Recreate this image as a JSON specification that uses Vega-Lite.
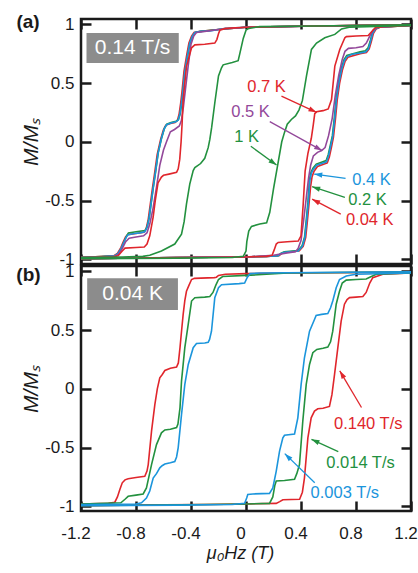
{
  "$schema": "https://vega.github.io/schema/vega-lite/v6.json",
  "padding": {"left": 15, "top": 11, "right": 0, "bottom": 0},
  "bounds": "flush",
  "spacing": 2,
  "config": {
    "font": "Liberation Sans",
    "view": {"stroke": "#1a1a1a", "strokeWidth": 2.5},
    "axis": {
      "domain": false, "grid": false,
      "tickSize": -10, "tickWidth": 2.5, "tickColor": "#1a1a1a", "tickCap": "butt",
      "labelFontSize": 17, "labelColor": "#1a1a1a", "labelFlush": false, "labelOverlap": false, "labelBound": false,
      "titleFontSize": 21, "titleFontWeight": "normal", "titleFontStyle": "italic", "titleColor": "#1a1a1a"
    }
  },
  "datasets": {
    "curvesA": [
      {"s":"0.04 K","b":"d","h":1.2,"m":0.995},{"s":"0.04 K","b":"d","h":0.5,"m":0.985},{"s":"0.04 K","b":"d","h":0,"m":0.975},{"s":"0.04 K","b":"d","h":-0.2,"m":0.955},{"s":"0.04 K","b":"d","h":-0.33,"m":0.94},{"s":"0.04 K","b":"d","h":-0.378,"m":0.93},{"s":"0.04 K","b":"d","h":-0.396,"m":0.9},{"s":"0.04 K","b":"d","h":-0.415,"m":0.84},{"s":"0.04 K","b":"d","h":-0.431,"m":0.74},{"s":"0.04 K","b":"d","h":-0.451,"m":0.6},{"s":"0.04 K","b":"d","h":-0.466,"m":0.42},{"s":"0.04 K","b":"d","h":-0.475,"m":0.33},{"s":"0.04 K","b":"d","h":-0.486,"m":0.24},{"s":"0.04 K","b":"d","h":-0.499,"m":0.18},{"s":"0.04 K","b":"d","h":-0.516,"m":0.165},{"s":"0.04 K","b":"d","h":-0.55,"m":0.155},{"s":"0.04 K","b":"d","h":-0.584,"m":0.14},{"s":"0.04 K","b":"d","h":-0.601,"m":0.1},{"s":"0.04 K","b":"d","h":-0.621,"m":0.02},{"s":"0.04 K","b":"d","h":-0.646,"m":-0.11},{"s":"0.04 K","b":"d","h":-0.666,"m":-0.28},{"s":"0.04 K","b":"d","h":-0.681,"m":-0.4},{"s":"0.04 K","b":"d","h":-0.696,"m":-0.53},{"s":"0.04 K","b":"d","h":-0.711,"m":-0.66},{"s":"0.04 K","b":"d","h":-0.726,"m":-0.74},{"s":"0.04 K","b":"d","h":-0.742,"m":-0.77},{"s":"0.04 K","b":"d","h":-0.8,"m":-0.78},{"s":"0.04 K","b":"d","h":-0.86,"m":-0.79},{"s":"0.04 K","b":"d","h":-0.876,"m":-0.81},{"s":"0.04 K","b":"d","h":-0.896,"m":-0.86},{"s":"0.04 K","b":"d","h":-0.91,"m":-0.9},{"s":"0.04 K","b":"d","h":-0.935,"m":-0.95},{"s":"0.04 K","b":"d","h":-0.96,"m":-0.97},{"s":"0.04 K","b":"d","h":-1.2,"m":-0.985},
      {"s":"0.04 K","b":"u","h":-1.2,"m":-0.995},{"s":"0.04 K","b":"u","h":-0.5,"m":-0.985},{"s":"0.04 K","b":"u","h":0,"m":-0.98},{"s":"0.04 K","b":"u","h":0.15,"m":-0.975},{"s":"0.04 K","b":"u","h":0.24,"m":-0.97},{"s":"0.04 K","b":"u","h":0.261,"m":-0.95},{"s":"0.04 K","b":"u","h":0.286,"m":-0.94},{"s":"0.04 K","b":"u","h":0.386,"m":-0.93},{"s":"0.04 K","b":"u","h":0.416,"m":-0.89},{"s":"0.04 K","b":"u","h":0.434,"m":-0.815},{"s":"0.04 K","b":"u","h":0.446,"m":-0.68},{"s":"0.04 K","b":"u","h":0.458,"m":-0.53},{"s":"0.04 K","b":"u","h":0.47,"m":-0.38},{"s":"0.04 K","b":"u","h":0.48,"m":-0.3},{"s":"0.04 K","b":"u","h":0.495,"m":-0.25},{"s":"0.04 K","b":"u","h":0.52,"m":-0.21},{"s":"0.04 K","b":"u","h":0.591,"m":-0.18},{"s":"0.04 K","b":"u","h":0.606,"m":-0.13},{"s":"0.04 K","b":"u","h":0.621,"m":-0.05},{"s":"0.04 K","b":"u","h":0.636,"m":0.04},{"s":"0.04 K","b":"u","h":0.651,"m":0.2},{"s":"0.04 K","b":"u","h":0.664,"m":0.36},{"s":"0.04 K","b":"u","h":0.681,"m":0.5},{"s":"0.04 K","b":"u","h":0.701,"m":0.61},{"s":"0.04 K","b":"u","h":0.721,"m":0.685},{"s":"0.04 K","b":"u","h":0.741,"m":0.72},{"s":"0.04 K","b":"u","h":0.83,"m":0.75},{"s":"0.04 K","b":"u","h":0.876,"m":0.76},{"s":"0.04 K","b":"u","h":0.896,"m":0.79},{"s":"0.04 K","b":"u","h":0.911,"m":0.85},{"s":"0.04 K","b":"u","h":0.926,"m":0.92},{"s":"0.04 K","b":"u","h":0.946,"m":0.96},{"s":"0.04 K","b":"u","h":0.975,"m":0.975},{"s":"0.04 K","b":"u","h":1.2,"m":0.99},

      {"s":"0.2 K","b":"d","h":1.2,"m":0.995},{"s":"0.2 K","b":"d","h":0.5,"m":0.985},{"s":"0.2 K","b":"d","h":0,"m":0.975},{"s":"0.2 K","b":"d","h":-0.2,"m":0.955},{"s":"0.2 K","b":"d","h":-0.33,"m":0.94},{"s":"0.2 K","b":"d","h":-0.37,"m":0.93},{"s":"0.2 K","b":"d","h":-0.388,"m":0.9},{"s":"0.2 K","b":"d","h":-0.407,"m":0.84},{"s":"0.2 K","b":"d","h":-0.423,"m":0.74},{"s":"0.2 K","b":"d","h":-0.443,"m":0.6},{"s":"0.2 K","b":"d","h":-0.458,"m":0.42},{"s":"0.2 K","b":"d","h":-0.467,"m":0.33},{"s":"0.2 K","b":"d","h":-0.478,"m":0.24},{"s":"0.2 K","b":"d","h":-0.491,"m":0.19},{"s":"0.2 K","b":"d","h":-0.508,"m":0.175},{"s":"0.2 K","b":"d","h":-0.545,"m":0.165},{"s":"0.2 K","b":"d","h":-0.576,"m":0.15},{"s":"0.2 K","b":"d","h":-0.593,"m":0.115},{"s":"0.2 K","b":"d","h":-0.613,"m":0.035},{"s":"0.2 K","b":"d","h":-0.638,"m":-0.09},{"s":"0.2 K","b":"d","h":-0.658,"m":-0.26},{"s":"0.2 K","b":"d","h":-0.673,"m":-0.38},{"s":"0.2 K","b":"d","h":-0.688,"m":-0.51},{"s":"0.2 K","b":"d","h":-0.703,"m":-0.64},{"s":"0.2 K","b":"d","h":-0.718,"m":-0.72},{"s":"0.2 K","b":"d","h":-0.734,"m":-0.755},{"s":"0.2 K","b":"d","h":-0.8,"m":-0.765},{"s":"0.2 K","b":"d","h":-0.855,"m":-0.775},{"s":"0.2 K","b":"d","h":-0.868,"m":-0.8},{"s":"0.2 K","b":"d","h":-0.888,"m":-0.855},{"s":"0.2 K","b":"d","h":-0.903,"m":-0.9},{"s":"0.2 K","b":"d","h":-0.928,"m":-0.95},{"s":"0.2 K","b":"d","h":-0.952,"m":-0.97},{"s":"0.2 K","b":"d","h":-1.2,"m":-0.985},
      {"s":"0.2 K","b":"u","h":-1.2,"m":-0.995},{"s":"0.2 K","b":"u","h":-0.5,"m":-0.985},{"s":"0.2 K","b":"u","h":0,"m":-0.98},{"s":"0.2 K","b":"u","h":0.15,"m":-0.975},{"s":"0.2 K","b":"u","h":0.232,"m":-0.97},{"s":"0.2 K","b":"u","h":0.253,"m":-0.95},{"s":"0.2 K","b":"u","h":0.278,"m":-0.935},{"s":"0.2 K","b":"u","h":0.378,"m":-0.925},{"s":"0.2 K","b":"u","h":0.408,"m":-0.885},{"s":"0.2 K","b":"u","h":0.426,"m":-0.81},{"s":"0.2 K","b":"u","h":0.438,"m":-0.67},{"s":"0.2 K","b":"u","h":0.45,"m":-0.52},{"s":"0.2 K","b":"u","h":0.462,"m":-0.32},{"s":"0.2 K","b":"u","h":0.473,"m":-0.26},{"s":"0.2 K","b":"u","h":0.487,"m":-0.225},{"s":"0.2 K","b":"u","h":0.511,"m":-0.19},{"s":"0.2 K","b":"u","h":0.583,"m":-0.16},{"s":"0.2 K","b":"u","h":0.598,"m":-0.11},{"s":"0.2 K","b":"u","h":0.613,"m":-0.03},{"s":"0.2 K","b":"u","h":0.628,"m":0.05},{"s":"0.2 K","b":"u","h":0.643,"m":0.21},{"s":"0.2 K","b":"u","h":0.656,"m":0.37},{"s":"0.2 K","b":"u","h":0.673,"m":0.51},{"s":"0.2 K","b":"u","h":0.693,"m":0.625},{"s":"0.2 K","b":"u","h":0.713,"m":0.7},{"s":"0.2 K","b":"u","h":0.733,"m":0.735},{"s":"0.2 K","b":"u","h":0.83,"m":0.765},{"s":"0.2 K","b":"u","h":0.868,"m":0.775},{"s":"0.2 K","b":"u","h":0.888,"m":0.8},{"s":"0.2 K","b":"u","h":0.903,"m":0.855},{"s":"0.2 K","b":"u","h":0.918,"m":0.925},{"s":"0.2 K","b":"u","h":0.938,"m":0.962},{"s":"0.2 K","b":"u","h":0.97,"m":0.975},{"s":"0.2 K","b":"u","h":1.2,"m":0.99},

      {"s":"0.4 K","b":"d","h":1.2,"m":0.995},{"s":"0.4 K","b":"d","h":0.9,"m":0.99},{"s":"0.4 K","b":"d","h":0.5,"m":0.985},{"s":"0.4 K","b":"d","h":0,"m":0.975},{"s":"0.4 K","b":"d","h":-0.15,"m":0.965},{"s":"0.4 K","b":"d","h":-0.2,"m":0.955},{"s":"0.4 K","b":"d","h":-0.25,"m":0.945},{"s":"0.4 K","b":"d","h":-0.33,"m":0.94},{"s":"0.4 K","b":"d","h":-0.372,"m":0.93},{"s":"0.4 K","b":"d","h":-0.39,"m":0.9},{"s":"0.4 K","b":"d","h":-0.409,"m":0.84},{"s":"0.4 K","b":"d","h":-0.425,"m":0.74},{"s":"0.4 K","b":"d","h":-0.445,"m":0.6},{"s":"0.4 K","b":"d","h":-0.46,"m":0.42},{"s":"0.4 K","b":"d","h":-0.469,"m":0.33},{"s":"0.4 K","b":"d","h":-0.48,"m":0.24},{"s":"0.4 K","b":"d","h":-0.493,"m":0.185},{"s":"0.4 K","b":"d","h":-0.51,"m":0.17},{"s":"0.4 K","b":"d","h":-0.545,"m":0.16},{"s":"0.4 K","b":"d","h":-0.578,"m":0.145},{"s":"0.4 K","b":"d","h":-0.595,"m":0.11},{"s":"0.4 K","b":"d","h":-0.615,"m":0.03},{"s":"0.4 K","b":"d","h":-0.64,"m":-0.1},{"s":"0.4 K","b":"d","h":-0.66,"m":-0.27},{"s":"0.4 K","b":"d","h":-0.675,"m":-0.39},{"s":"0.4 K","b":"d","h":-0.69,"m":-0.52},{"s":"0.4 K","b":"d","h":-0.705,"m":-0.65},{"s":"0.4 K","b":"d","h":-0.72,"m":-0.73},{"s":"0.4 K","b":"d","h":-0.736,"m":-0.765},{"s":"0.4 K","b":"d","h":-0.77,"m":-0.775},{"s":"0.4 K","b":"d","h":-0.81,"m":-0.78},{"s":"0.4 K","b":"d","h":-0.857,"m":-0.79},{"s":"0.4 K","b":"d","h":-0.87,"m":-0.81},{"s":"0.4 K","b":"d","h":-0.89,"m":-0.86},{"s":"0.4 K","b":"d","h":-0.905,"m":-0.9},{"s":"0.4 K","b":"d","h":-0.93,"m":-0.95},{"s":"0.4 K","b":"d","h":-0.954,"m":-0.97},{"s":"0.4 K","b":"d","h":-1.05,"m":-0.978},{"s":"0.4 K","b":"d","h":-1.2,"m":-0.985},
      {"s":"0.4 K","b":"u","h":-1.2,"m":-0.995},{"s":"0.4 K","b":"u","h":-0.9,"m":-0.99},{"s":"0.4 K","b":"u","h":-0.5,"m":-0.985},{"s":"0.4 K","b":"u","h":0,"m":-0.98},{"s":"0.4 K","b":"u","h":0.15,"m":-0.975},{"s":"0.4 K","b":"u","h":0.234,"m":-0.97},{"s":"0.4 K","b":"u","h":0.255,"m":-0.95},{"s":"0.4 K","b":"u","h":0.28,"m":-0.94},{"s":"0.4 K","b":"u","h":0.38,"m":-0.93},{"s":"0.4 K","b":"u","h":0.41,"m":-0.89},{"s":"0.4 K","b":"u","h":0.428,"m":-0.815},{"s":"0.4 K","b":"u","h":0.44,"m":-0.68},{"s":"0.4 K","b":"u","h":0.452,"m":-0.53},{"s":"0.4 K","b":"u","h":0.464,"m":-0.33},{"s":"0.4 K","b":"u","h":0.475,"m":-0.27},{"s":"0.4 K","b":"u","h":0.489,"m":-0.235},{"s":"0.4 K","b":"u","h":0.513,"m":-0.2},{"s":"0.4 K","b":"u","h":0.55,"m":-0.185},{"s":"0.4 K","b":"u","h":0.585,"m":-0.17},{"s":"0.4 K","b":"u","h":0.6,"m":-0.12},{"s":"0.4 K","b":"u","h":0.615,"m":-0.04},{"s":"0.4 K","b":"u","h":0.63,"m":0.04},{"s":"0.4 K","b":"u","h":0.645,"m":0.2},{"s":"0.4 K","b":"u","h":0.658,"m":0.36},{"s":"0.4 K","b":"u","h":0.675,"m":0.5},{"s":"0.4 K","b":"u","h":0.695,"m":0.615},{"s":"0.4 K","b":"u","h":0.715,"m":0.69},{"s":"0.4 K","b":"u","h":0.735,"m":0.725},{"s":"0.4 K","b":"u","h":0.77,"m":0.745},{"s":"0.4 K","b":"u","h":0.83,"m":0.755},{"s":"0.4 K","b":"u","h":0.87,"m":0.765},{"s":"0.4 K","b":"u","h":0.89,"m":0.79},{"s":"0.4 K","b":"u","h":0.905,"m":0.85},{"s":"0.4 K","b":"u","h":0.92,"m":0.92},{"s":"0.4 K","b":"u","h":0.94,"m":0.96},{"s":"0.4 K","b":"u","h":0.97,"m":0.975},{"s":"0.4 K","b":"u","h":1.1,"m":0.985},{"s":"0.4 K","b":"u","h":1.2,"m":0.99},

      {"s":"0.5 K","b":"d","h":1.2,"m":0.995},{"s":"0.5 K","b":"d","h":0.5,"m":0.985},{"s":"0.5 K","b":"d","h":0,"m":0.975},{"s":"0.5 K","b":"d","h":-0.2,"m":0.955},{"s":"0.5 K","b":"d","h":-0.3,"m":0.94},{"s":"0.5 K","b":"d","h":-0.36,"m":0.93},{"s":"0.5 K","b":"d","h":-0.38,"m":0.9},{"s":"0.5 K","b":"d","h":-0.4,"m":0.83},{"s":"0.5 K","b":"d","h":-0.42,"m":0.65},{"s":"0.5 K","b":"d","h":-0.44,"m":0.45},{"s":"0.5 K","b":"d","h":-0.455,"m":0.3},{"s":"0.5 K","b":"d","h":-0.47,"m":0.18},{"s":"0.5 K","b":"d","h":-0.485,"m":0.135},{"s":"0.5 K","b":"d","h":-0.52,"m":0.105},{"s":"0.5 K","b":"d","h":-0.55,"m":0.085},{"s":"0.5 K","b":"d","h":-0.578,"m":0.0},{"s":"0.5 K","b":"d","h":-0.6,"m":-0.07},{"s":"0.5 K","b":"d","h":-0.627,"m":-0.2},{"s":"0.5 K","b":"d","h":-0.65,"m":-0.38},{"s":"0.5 K","b":"d","h":-0.675,"m":-0.56},{"s":"0.5 K","b":"d","h":-0.7,"m":-0.7},{"s":"0.5 K","b":"d","h":-0.72,"m":-0.775},{"s":"0.5 K","b":"d","h":-0.745,"m":-0.8},{"s":"0.5 K","b":"d","h":-0.8,"m":-0.81},{"s":"0.5 K","b":"d","h":-0.85,"m":-0.82},{"s":"0.5 K","b":"d","h":-0.875,"m":-0.85},{"s":"0.5 K","b":"d","h":-0.9,"m":-0.91},{"s":"0.5 K","b":"d","h":-0.925,"m":-0.955},{"s":"0.5 K","b":"d","h":-0.955,"m":-0.975},{"s":"0.5 K","b":"d","h":-1.2,"m":-0.985},
      {"s":"0.5 K","b":"u","h":-1.2,"m":-0.995},{"s":"0.5 K","b":"u","h":-0.5,"m":-0.985},{"s":"0.5 K","b":"u","h":0,"m":-0.98},{"s":"0.5 K","b":"u","h":0.2,"m":-0.965},{"s":"0.5 K","b":"u","h":0.3,"m":-0.945},{"s":"0.5 K","b":"u","h":0.36,"m":-0.935},{"s":"0.5 K","b":"u","h":0.38,"m":-0.905},{"s":"0.5 K","b":"u","h":0.4,"m":-0.84},{"s":"0.5 K","b":"u","h":0.42,"m":-0.66},{"s":"0.5 K","b":"u","h":0.44,"m":-0.46},{"s":"0.5 K","b":"u","h":0.455,"m":-0.31},{"s":"0.5 K","b":"u","h":0.47,"m":-0.2},{"s":"0.5 K","b":"u","h":0.49,"m":-0.12},{"s":"0.5 K","b":"u","h":0.52,"m":-0.09},{"s":"0.5 K","b":"u","h":0.55,"m":-0.075},{"s":"0.5 K","b":"u","h":0.575,"m":-0.05},{"s":"0.5 K","b":"u","h":0.6,"m":0.05},{"s":"0.5 K","b":"u","h":0.627,"m":0.2},{"s":"0.5 K","b":"u","h":0.65,"m":0.4},{"s":"0.5 K","b":"u","h":0.675,"m":0.57},{"s":"0.5 K","b":"u","h":0.7,"m":0.7},{"s":"0.5 K","b":"u","h":0.72,"m":0.77},{"s":"0.5 K","b":"u","h":0.745,"m":0.795},{"s":"0.5 K","b":"u","h":0.8,"m":0.8},{"s":"0.5 K","b":"u","h":0.85,"m":0.81},{"s":"0.5 K","b":"u","h":0.875,"m":0.84},{"s":"0.5 K","b":"u","h":0.9,"m":0.9},{"s":"0.5 K","b":"u","h":0.925,"m":0.95},{"s":"0.5 K","b":"u","h":0.955,"m":0.975},{"s":"0.5 K","b":"u","h":1.2,"m":0.99},

      {"s":"0.7 K","b":"d","h":1.2,"m":0.995},{"s":"0.7 K","b":"d","h":0.5,"m":0.985},{"s":"0.7 K","b":"d","h":0,"m":0.975},{"s":"0.7 K","b":"d","h":-0.15,"m":0.965},{"s":"0.7 K","b":"d","h":-0.19,"m":0.95},{"s":"0.7 K","b":"d","h":-0.2,"m":0.92},{"s":"0.7 K","b":"d","h":-0.212,"m":0.87},{"s":"0.7 K","b":"d","h":-0.227,"m":0.84},{"s":"0.7 K","b":"d","h":-0.3,"m":0.83},{"s":"0.7 K","b":"d","h":-0.372,"m":0.825},{"s":"0.7 K","b":"d","h":-0.396,"m":0.8},{"s":"0.7 K","b":"d","h":-0.415,"m":0.72},{"s":"0.7 K","b":"d","h":-0.433,"m":0.64},{"s":"0.7 K","b":"d","h":-0.445,"m":0.5},{"s":"0.7 K","b":"d","h":-0.457,"m":0.36},{"s":"0.7 K","b":"d","h":-0.465,"m":0.15},{"s":"0.7 K","b":"d","h":-0.472,"m":0.0},{"s":"0.7 K","b":"d","h":-0.482,"m":-0.15},{"s":"0.7 K","b":"d","h":-0.493,"m":-0.23},{"s":"0.7 K","b":"d","h":-0.505,"m":-0.26},{"s":"0.7 K","b":"d","h":-0.56,"m":-0.275},{"s":"0.7 K","b":"d","h":-0.6,"m":-0.285},{"s":"0.7 K","b":"d","h":-0.615,"m":-0.3},{"s":"0.7 K","b":"d","h":-0.64,"m":-0.35},{"s":"0.7 K","b":"d","h":-0.66,"m":-0.5},{"s":"0.7 K","b":"d","h":-0.675,"m":-0.64},{"s":"0.7 K","b":"d","h":-0.7,"m":-0.8},{"s":"0.7 K","b":"d","h":-0.72,"m":-0.87},{"s":"0.7 K","b":"d","h":-0.74,"m":-0.895},{"s":"0.7 K","b":"d","h":-0.8,"m":-0.9},{"s":"0.7 K","b":"d","h":-0.88,"m":-0.905},{"s":"0.7 K","b":"d","h":-0.9,"m":-0.93},{"s":"0.7 K","b":"d","h":-0.93,"m":-0.97},{"s":"0.7 K","b":"d","h":-0.97,"m":-0.98},{"s":"0.7 K","b":"d","h":-1.2,"m":-0.985},
      {"s":"0.7 K","b":"u","h":-1.2,"m":-0.995},{"s":"0.7 K","b":"u","h":-0.5,"m":-0.985},{"s":"0.7 K","b":"u","h":0,"m":-0.98},{"s":"0.7 K","b":"u","h":0.15,"m":-0.975},{"s":"0.7 K","b":"u","h":0.19,"m":-0.965},{"s":"0.7 K","b":"u","h":0.205,"m":-0.92},{"s":"0.7 K","b":"u","h":0.22,"m":-0.87},{"s":"0.7 K","b":"u","h":0.234,"m":-0.857},{"s":"0.7 K","b":"u","h":0.3,"m":-0.85},{"s":"0.7 K","b":"u","h":0.38,"m":-0.845},{"s":"0.7 K","b":"u","h":0.4,"m":-0.8},{"s":"0.7 K","b":"u","h":0.416,"m":-0.53},{"s":"0.7 K","b":"u","h":0.43,"m":-0.25},{"s":"0.7 K","b":"u","h":0.45,"m":-0.1},{"s":"0.7 K","b":"u","h":0.475,"m":0.03},{"s":"0.7 K","b":"u","h":0.49,"m":0.15},{"s":"0.7 K","b":"u","h":0.5,"m":0.24},{"s":"0.7 K","b":"u","h":0.513,"m":0.255},{"s":"0.7 K","b":"u","h":0.56,"m":0.265},{"s":"0.7 K","b":"u","h":0.598,"m":0.28},{"s":"0.7 K","b":"u","h":0.622,"m":0.36},{"s":"0.7 K","b":"u","h":0.646,"m":0.644},{"s":"0.7 K","b":"u","h":0.682,"m":0.786},{"s":"0.7 K","b":"u","h":0.719,"m":0.885},{"s":"0.7 K","b":"u","h":0.73,"m":0.895},{"s":"0.7 K","b":"u","h":0.8,"m":0.9},{"s":"0.7 K","b":"u","h":0.889,"m":0.905},{"s":"0.7 K","b":"u","h":0.9,"m":0.92},{"s":"0.7 K","b":"u","h":0.94,"m":0.97},{"s":"0.7 K","b":"u","h":1.0,"m":0.98},{"s":"0.7 K","b":"u","h":1.2,"m":0.99},

      {"s":"1 K","b":"d","h":1.2,"m":0.995},{"s":"1 K","b":"d","h":0.5,"m":0.985},{"s":"1 K","b":"d","h":0.1,"m":0.98},{"s":"1 K","b":"d","h":0.02,"m":0.965},{"s":"1 K","b":"d","h":0,"m":0.95},{"s":"1 K","b":"d","h":-0.02,"m":0.88},{"s":"1 K","b":"d","h":-0.045,"m":0.75},{"s":"1 K","b":"d","h":-0.057,"m":0.69},{"s":"1 K","b":"d","h":-0.1,"m":0.675},{"s":"1 K","b":"d","h":-0.166,"m":0.655},{"s":"1 K","b":"d","h":-0.178,"m":0.63},{"s":"1 K","b":"d","h":-0.2,"m":0.56},{"s":"1 K","b":"d","h":-0.227,"m":0.33},{"s":"1 K","b":"d","h":-0.25,"m":0.12},{"s":"1 K","b":"d","h":-0.263,"m":0.02},{"s":"1 K","b":"d","h":-0.275,"m":-0.05},{"s":"1 K","b":"d","h":-0.3,"m":-0.14},{"s":"1 K","b":"d","h":-0.33,"m":-0.185},{"s":"1 K","b":"d","h":-0.372,"m":-0.22},{"s":"1 K","b":"d","h":-0.384,"m":-0.245},{"s":"1 K","b":"d","h":-0.409,"m":-0.36},{"s":"1 K","b":"d","h":-0.433,"m":-0.53},{"s":"1 K","b":"d","h":-0.45,"m":-0.68},{"s":"1 K","b":"d","h":-0.469,"m":-0.786},{"s":"1 K","b":"d","h":-0.518,"m":-0.87},{"s":"1 K","b":"d","h":-0.615,"m":-0.93},{"s":"1 K","b":"d","h":-0.7,"m":-0.965},{"s":"1 K","b":"d","h":-0.75,"m":-0.975},{"s":"1 K","b":"d","h":-0.9,"m":-0.98},{"s":"1 K","b":"d","h":-1.2,"m":-0.985},
      {"s":"1 K","b":"u","h":-1.2,"m":-0.995},{"s":"1 K","b":"u","h":-0.5,"m":-0.99},{"s":"1 K","b":"u","h":-0.1,"m":-0.985},{"s":"1 K","b":"u","h":-0.02,"m":-0.975},{"s":"1 K","b":"u","h":0,"m":-0.93},{"s":"1 K","b":"u","h":0.006,"m":-0.85},{"s":"1 K","b":"u","h":0.02,"m":-0.76},{"s":"1 K","b":"u","h":0.04,"m":-0.72},{"s":"1 K","b":"u","h":0.1,"m":-0.7},{"s":"1 K","b":"u","h":0.15,"m":-0.69},{"s":"1 K","b":"u","h":0.173,"m":-0.6},{"s":"1 K","b":"u","h":0.2,"m":-0.4},{"s":"1 K","b":"u","h":0.23,"m":-0.2},{"s":"1 K","b":"u","h":0.26,"m":0.0},{"s":"1 K","b":"u","h":0.28,"m":0.08},{"s":"1 K","b":"u","h":0.3,"m":0.15},{"s":"1 K","b":"u","h":0.33,"m":0.19},{"s":"1 K","b":"u","h":0.36,"m":0.22},{"s":"1 K","b":"u","h":0.385,"m":0.27},{"s":"1 K","b":"u","h":0.41,"m":0.35},{"s":"1 K","b":"u","h":0.44,"m":0.56},{"s":"1 K","b":"u","h":0.476,"m":0.786},{"s":"1 K","b":"u","h":0.513,"m":0.84},{"s":"1 K","b":"u","h":0.573,"m":0.885},{"s":"1 K","b":"u","h":0.646,"m":0.914},{"s":"1 K","b":"u","h":0.695,"m":0.96},{"s":"1 K","b":"u","h":0.75,"m":0.975},{"s":"1 K","b":"u","h":1.2,"m":0.99}
    ],
    "curvesB": [
      {"s":"0.140 T/s","b":"d","h":1.2,"m":0.995},{"s":"0.140 T/s","b":"d","h":0.9,"m":0.99},{"s":"0.140 T/s","b":"d","h":0.3,"m":0.985},{"s":"0.140 T/s","b":"d","h":0,"m":0.98},{"s":"0.140 T/s","b":"d","h":-0.15,"m":0.975},{"s":"0.140 T/s","b":"d","h":-0.2,"m":0.965},{"s":"0.140 T/s","b":"d","h":-0.215,"m":0.95},{"s":"0.140 T/s","b":"d","h":-0.23,"m":0.946},{"s":"0.140 T/s","b":"d","h":-0.375,"m":0.94},{"s":"0.140 T/s","b":"d","h":-0.396,"m":0.93},{"s":"0.140 T/s","b":"d","h":-0.415,"m":0.88},{"s":"0.140 T/s","b":"d","h":-0.433,"m":0.83},{"s":"0.140 T/s","b":"d","h":-0.445,"m":0.75},{"s":"0.140 T/s","b":"d","h":-0.457,"m":0.633},{"s":"0.140 T/s","b":"d","h":-0.468,"m":0.5},{"s":"0.140 T/s","b":"d","h":-0.48,"m":0.35},{"s":"0.140 T/s","b":"d","h":-0.492,"m":0.22},{"s":"0.140 T/s","b":"d","h":-0.505,"m":0.185},{"s":"0.140 T/s","b":"d","h":-0.55,"m":0.175},{"s":"0.140 T/s","b":"d","h":-0.59,"m":0.156},{"s":"0.140 T/s","b":"d","h":-0.61,"m":0.12},{"s":"0.140 T/s","b":"d","h":-0.627,"m":0.094},{"s":"0.140 T/s","b":"d","h":-0.645,"m":0.0},{"s":"0.140 T/s","b":"d","h":-0.663,"m":-0.134},{"s":"0.140 T/s","b":"d","h":-0.687,"m":-0.36},{"s":"0.140 T/s","b":"d","h":-0.711,"m":-0.645},{"s":"0.140 T/s","b":"d","h":-0.72,"m":-0.7},{"s":"0.140 T/s","b":"d","h":-0.736,"m":-0.745},{"s":"0.140 T/s","b":"d","h":-0.8,"m":-0.755},{"s":"0.140 T/s","b":"d","h":-0.857,"m":-0.765},{"s":"0.140 T/s","b":"d","h":-0.88,"m":-0.775},{"s":"0.140 T/s","b":"d","h":-0.9,"m":-0.8},{"s":"0.140 T/s","b":"d","h":-0.918,"m":-0.86},{"s":"0.140 T/s","b":"d","h":-0.935,"m":-0.92},{"s":"0.140 T/s","b":"d","h":-0.954,"m":-0.965},{"s":"0.140 T/s","b":"d","h":-1.0,"m":-0.975},{"s":"0.140 T/s","b":"d","h":-1.2,"m":-0.98},
      {"s":"0.140 T/s","b":"u","h":-1.2,"m":-0.995},{"s":"0.140 T/s","b":"u","h":-0.9,"m":-0.99},{"s":"0.140 T/s","b":"u","h":-0.3,"m":-0.985},{"s":"0.140 T/s","b":"u","h":0,"m":-0.98},{"s":"0.140 T/s","b":"u","h":0.22,"m":-0.975},{"s":"0.140 T/s","b":"u","h":0.245,"m":-0.96},{"s":"0.140 T/s","b":"u","h":0.268,"m":-0.944},{"s":"0.140 T/s","b":"u","h":0.39,"m":-0.94},{"s":"0.140 T/s","b":"u","h":0.41,"m":-0.88},{"s":"0.140 T/s","b":"u","h":0.425,"m":-0.76},{"s":"0.140 T/s","b":"u","h":0.45,"m":-0.418},{"s":"0.140 T/s","b":"u","h":0.474,"m":-0.247},{"s":"0.140 T/s","b":"u","h":0.498,"m":-0.19},{"s":"0.140 T/s","b":"u","h":0.522,"m":-0.17},{"s":"0.140 T/s","b":"u","h":0.56,"m":-0.165},{"s":"0.140 T/s","b":"u","h":0.607,"m":-0.15},{"s":"0.140 T/s","b":"u","h":0.625,"m":-0.05},{"s":"0.140 T/s","b":"u","h":0.644,"m":0.122},{"s":"0.140 T/s","b":"u","h":0.668,"m":0.35},{"s":"0.140 T/s","b":"u","h":0.692,"m":0.576},{"s":"0.140 T/s","b":"u","h":0.716,"m":0.72},{"s":"0.140 T/s","b":"u","h":0.735,"m":0.76},{"s":"0.140 T/s","b":"u","h":0.753,"m":0.776},{"s":"0.140 T/s","b":"u","h":0.8,"m":0.78},{"s":"0.140 T/s","b":"u","h":0.85,"m":0.785},{"s":"0.140 T/s","b":"u","h":0.874,"m":0.82},{"s":"0.140 T/s","b":"u","h":0.9,"m":0.9},{"s":"0.140 T/s","b":"u","h":0.922,"m":0.946},{"s":"0.140 T/s","b":"u","h":0.995,"m":0.975},{"s":"0.140 T/s","b":"u","h":1.2,"m":0.985},

      {"s":"0.014 T/s","b":"d","h":1.2,"m":0.995},{"s":"0.014 T/s","b":"d","h":0.3,"m":0.985},{"s":"0.014 T/s","b":"d","h":0,"m":0.965},{"s":"0.014 T/s","b":"d","h":-0.17,"m":0.955},{"s":"0.014 T/s","b":"d","h":-0.2,"m":0.93},{"s":"0.014 T/s","b":"d","h":-0.22,"m":0.88},{"s":"0.014 T/s","b":"d","h":-0.24,"m":0.82},{"s":"0.014 T/s","b":"d","h":-0.263,"m":0.785},{"s":"0.014 T/s","b":"d","h":-0.3,"m":0.78},{"s":"0.014 T/s","b":"d","h":-0.372,"m":0.775},{"s":"0.014 T/s","b":"d","h":-0.396,"m":0.747},{"s":"0.014 T/s","b":"d","h":-0.42,"m":0.55},{"s":"0.014 T/s","b":"d","h":-0.445,"m":0.35},{"s":"0.014 T/s","b":"d","h":-0.469,"m":0.065},{"s":"0.014 T/s","b":"d","h":-0.48,"m":-0.162},{"s":"0.014 T/s","b":"d","h":-0.495,"m":-0.3},{"s":"0.014 T/s","b":"d","h":-0.505,"m":-0.33},{"s":"0.014 T/s","b":"d","h":-0.55,"m":-0.345},{"s":"0.014 T/s","b":"d","h":-0.59,"m":-0.35},{"s":"0.014 T/s","b":"d","h":-0.615,"m":-0.375},{"s":"0.014 T/s","b":"d","h":-0.635,"m":-0.43},{"s":"0.014 T/s","b":"d","h":-0.651,"m":-0.475},{"s":"0.014 T/s","b":"d","h":-0.687,"m":-0.645},{"s":"0.014 T/s","b":"d","h":-0.724,"m":-0.844},{"s":"0.014 T/s","b":"d","h":-0.748,"m":-0.895},{"s":"0.014 T/s","b":"d","h":-0.8,"m":-0.905},{"s":"0.014 T/s","b":"d","h":-0.857,"m":-0.915},{"s":"0.014 T/s","b":"d","h":-0.88,"m":-0.94},{"s":"0.014 T/s","b":"d","h":-0.91,"m":-0.97},{"s":"0.014 T/s","b":"d","h":-1.2,"m":-0.98},
      {"s":"0.014 T/s","b":"u","h":-1.2,"m":-0.995},{"s":"0.014 T/s","b":"u","h":-0.3,"m":-0.985},{"s":"0.014 T/s","b":"u","h":0,"m":-0.98},{"s":"0.014 T/s","b":"u","h":0.171,"m":-0.975},{"s":"0.014 T/s","b":"u","h":0.195,"m":-0.92},{"s":"0.014 T/s","b":"u","h":0.21,"m":-0.82},{"s":"0.014 T/s","b":"u","h":0.22,"m":-0.785},{"s":"0.014 T/s","b":"u","h":0.28,"m":-0.78},{"s":"0.014 T/s","b":"u","h":0.353,"m":-0.77},{"s":"0.014 T/s","b":"u","h":0.37,"m":-0.72},{"s":"0.014 T/s","b":"u","h":0.389,"m":-0.645},{"s":"0.014 T/s","b":"u","h":0.413,"m":-0.276},{"s":"0.014 T/s","b":"u","h":0.438,"m":0.037},{"s":"0.014 T/s","b":"u","h":0.462,"m":0.207},{"s":"0.014 T/s","b":"u","h":0.486,"m":0.307},{"s":"0.014 T/s","b":"u","h":0.515,"m":0.335},{"s":"0.014 T/s","b":"u","h":0.56,"m":0.345},{"s":"0.014 T/s","b":"u","h":0.595,"m":0.355},{"s":"0.014 T/s","b":"u","h":0.615,"m":0.4},{"s":"0.014 T/s","b":"u","h":0.631,"m":0.49},{"s":"0.014 T/s","b":"u","h":0.656,"m":0.72},{"s":"0.014 T/s","b":"u","h":0.68,"m":0.83},{"s":"0.014 T/s","b":"u","h":0.7,"m":0.9},{"s":"0.014 T/s","b":"u","h":0.729,"m":0.925},{"s":"0.014 T/s","b":"u","h":0.8,"m":0.93},{"s":"0.014 T/s","b":"u","h":0.874,"m":0.935},{"s":"0.014 T/s","b":"u","h":0.9,"m":0.95},{"s":"0.014 T/s","b":"u","h":0.947,"m":0.975},{"s":"0.014 T/s","b":"u","h":1.2,"m":0.985},

      {"s":"0.003 T/s","b":"d","h":1.2,"m":0.995},{"s":"0.003 T/s","b":"d","h":0.5,"m":0.99},{"s":"0.003 T/s","b":"d","h":0.1,"m":0.985},{"s":"0.003 T/s","b":"d","h":0.03,"m":0.98},{"s":"0.003 T/s","b":"d","h":0.01,"m":0.95},{"s":"0.003 T/s","b":"d","h":-0.01,"m":0.9},{"s":"0.003 T/s","b":"d","h":-0.05,"m":0.895},{"s":"0.003 T/s","b":"d","h":-0.178,"m":0.885},{"s":"0.003 T/s","b":"d","h":-0.2,"m":0.86},{"s":"0.003 T/s","b":"d","h":-0.227,"m":0.776},{"s":"0.003 T/s","b":"d","h":-0.251,"m":0.49},{"s":"0.003 T/s","b":"d","h":-0.265,"m":0.42},{"s":"0.003 T/s","b":"d","h":-0.275,"m":0.395},{"s":"0.003 T/s","b":"d","h":-0.3,"m":0.39},{"s":"0.003 T/s","b":"d","h":-0.36,"m":0.385},{"s":"0.003 T/s","b":"d","h":-0.384,"m":0.35},{"s":"0.003 T/s","b":"d","h":-0.42,"m":0.207},{"s":"0.003 T/s","b":"d","h":-0.445,"m":0.037},{"s":"0.003 T/s","b":"d","h":-0.469,"m":-0.22},{"s":"0.003 T/s","b":"d","h":-0.493,"m":-0.5},{"s":"0.003 T/s","b":"d","h":-0.505,"m":-0.58},{"s":"0.003 T/s","b":"d","h":-0.518,"m":-0.62},{"s":"0.003 T/s","b":"d","h":-0.55,"m":-0.63},{"s":"0.003 T/s","b":"d","h":-0.59,"m":-0.64},{"s":"0.003 T/s","b":"d","h":-0.61,"m":-0.655},{"s":"0.003 T/s","b":"d","h":-0.627,"m":-0.673},{"s":"0.003 T/s","b":"d","h":-0.65,"m":-0.72},{"s":"0.003 T/s","b":"d","h":-0.675,"m":-0.76},{"s":"0.003 T/s","b":"d","h":-0.7,"m":-0.87},{"s":"0.003 T/s","b":"d","h":-0.724,"m":-0.93},{"s":"0.003 T/s","b":"d","h":-0.76,"m":-0.97},{"s":"0.003 T/s","b":"d","h":-0.8,"m":-0.98},{"s":"0.003 T/s","b":"d","h":-1.2,"m":-0.985},
      {"s":"0.003 T/s","b":"u","h":-1.2,"m":-0.995},{"s":"0.003 T/s","b":"u","h":-0.5,"m":-0.99},{"s":"0.003 T/s","b":"u","h":-0.1,"m":-0.985},{"s":"0.003 T/s","b":"u","h":-0.01,"m":-0.975},{"s":"0.003 T/s","b":"u","h":0.005,"m":-0.93},{"s":"0.003 T/s","b":"u","h":0.013,"m":-0.9},{"s":"0.003 T/s","b":"u","h":0.05,"m":-0.895},{"s":"0.003 T/s","b":"u","h":0.171,"m":-0.89},{"s":"0.003 T/s","b":"u","h":0.195,"m":-0.844},{"s":"0.003 T/s","b":"u","h":0.22,"m":-0.7},{"s":"0.003 T/s","b":"u","h":0.244,"m":-0.53},{"s":"0.003 T/s","b":"u","h":0.268,"m":-0.418},{"s":"0.003 T/s","b":"u","h":0.28,"m":-0.395},{"s":"0.003 T/s","b":"u","h":0.353,"m":-0.385},{"s":"0.003 T/s","b":"u","h":0.377,"m":-0.247},{"s":"0.003 T/s","b":"u","h":0.401,"m":0.037},{"s":"0.003 T/s","b":"u","h":0.425,"m":0.264},{"s":"0.003 T/s","b":"u","h":0.462,"m":0.49},{"s":"0.003 T/s","b":"u","h":0.498,"m":0.59},{"s":"0.003 T/s","b":"u","h":0.51,"m":0.625},{"s":"0.003 T/s","b":"u","h":0.55,"m":0.633},{"s":"0.003 T/s","b":"u","h":0.595,"m":0.64},{"s":"0.003 T/s","b":"u","h":0.615,"m":0.69},{"s":"0.003 T/s","b":"u","h":0.631,"m":0.747},{"s":"0.003 T/s","b":"u","h":0.656,"m":0.86},{"s":"0.003 T/s","b":"u","h":0.68,"m":0.93},{"s":"0.003 T/s","b":"u","h":0.729,"m":0.96},{"s":"0.003 T/s","b":"u","h":0.8,"m":0.975},{"s":"0.003 T/s","b":"u","h":1.2,"m":0.985}
    ],
    "labelsA": [
      {"s":"0.7 K","h":0.149,"m":0.469},{"s":"0.5 K","h":0.033,"m":0.254},{"s":"1 K","h":0.004,"m":0.038},
      {"s":"0.4 K","h":0.913,"m":-0.322},{"s":"0.2 K","h":0.884,"m":-0.499},{"s":"0.04 K","h":0.9,"m":-0.669}
    ],
    "arrowsA": [
      {"s":"0.7 K","h0":0.258,"m0":0.388,"h1":0.513,"m1":0.251},
      {"s":"0.5 K","h0":0.173,"m0":0.172,"h1":0.554,"m1":-0.075},
      {"s":"1 K","h0":0.035,"m0":-0.038,"h1":0.222,"m1":-0.198},
      {"s":"0.4 K","h0":0.724,"m0":-0.311,"h1":0.496,"m1":-0.275},
      {"s":"0.2 K","h0":0.719,"m0":-0.473,"h1":0.481,"m1":-0.382},
      {"s":"0.04 K","h0":0.689,"m0":-0.616,"h1":0.481,"m1":-0.488}
    ],
    "labelsB": [
      {"s":"0.140 T/s","h":0.889,"m":-0.302},{"s":"0.014 T/s","h":0.833,"m":-0.628},{"s":"0.003 T/s","h":0.719,"m":-0.884}
    ],
    "arrowsB": [
      {"s":"0.140 T/s","h0":0.84,"m0":-0.159,"h1":0.682,"m1":0.153},
      {"s":"0.014 T/s","h0":0.671,"m0":-0.535,"h1":0.476,"m1":-0.43},
      {"s":"0.003 T/s","h0":0.5,"m0":-0.799,"h1":0.282,"m1":-0.552}
    ],
    "boxA": [{"x1":-1.16,"x2":-0.489,"y1":0.671,"y2":0.926,"hc":-0.825,"mc":0.8,"t":"0.14 T/s"}],
    "boxB": [{"x1":-1.155,"x2":-0.495,"y1":0.671,"y2":0.94,"hc":-0.825,"mc":0.806,"t":"0.04 K"}],
    "tagA": [{"h":-1.585,"m":1.019,"t":"(a)"}],
    "tagB": [{"h":-1.582,"m":0.97,"t":"(b)"}]
  },
  "vconcat": [
    {
      "width": 330, "height": 245,
      "resolve": {"axis": {"x": "independent", "y": "independent"}},
      "layer": [
        {
          "data": {"name": "boxA"},
          "mark": {"type": "rect", "color": "#8c8c8c"},
          "encoding": {
            "x": {"field": "x1", "type": "quantitative", "axis": null, "scale": {"domain": [-1.2, 1.2], "nice": false, "zero": false}},
            "x2": {"field": "x2"},
            "y": {"field": "y1", "type": "quantitative", "axis": null, "scale": {"domain": [-1.04, 1.045], "nice": false, "zero": false}},
            "y2": {"field": "y2"}
          }
        },
        {
          "data": {"name": "boxA"},
          "mark": {"type": "text", "color": "white", "fontSize": 21, "align": "center", "baseline": "middle"},
          "encoding": {
            "x": {"field": "hc", "type": "quantitative", "axis": null},
            "y": {"field": "mc", "type": "quantitative", "axis": null},
            "text": {"field": "t"}
          }
        },
        {
          "data": {"name": "curvesA"},
          "mark": {"type": "line", "strokeWidth": 1.6, "clip": true},
          "encoding": {
            "x": {"field": "h", "type": "quantitative", "scale": {"domain": [-1.2, 1.2], "nice": false, "zero": false},
                  "axis": {"orient": "bottom", "values": [-1.2, -0.8, -0.4, 0, 0.4, 0.8, 1.2], "labels": false, "title": null}},
            "y": {"field": "m", "type": "quantitative", "scale": {"domain": [-1.04, 1.045], "nice": false, "zero": false},
                  "axis": {"orient": "left", "values": [-1, -0.5, 0, 0.5, 1], "labelExpr": "'' + datum.value", "labelPadding": 17, "title": "M/Mₛ", "titlePadding": 3}},
            "color": {"field": "s", "type": "nominal", "legend": null,
                      "scale": {"domain": ["0.04 K","0.2 K","0.4 K","0.5 K","0.7 K","1 K","0.140 T/s","0.014 T/s","0.003 T/s"],
                                "range": ["#e0262c","#23913f","#1b95dc","#93489a","#e0262c","#23913f","#e0262c","#23913f","#1b95dc"]}},
            "detail": {"field": "b", "type": "nominal"}
          }
        },
        {
          "data": {"name": "arrowsA"},
          "mark": {"type": "rule", "strokeWidth": 1.3},
          "encoding": {
            "x": {"field": "h0", "type": "quantitative", "axis": null},
            "y": {"field": "m0", "type": "quantitative", "axis": null},
            "x2": {"field": "h1"},
            "y2": {"field": "m1"},
            "color": {"field": "s", "type": "nominal", "legend": null}
          }
        },
        {
          "data": {"name": "arrowsA"},
          "transform": [{"calculate": "atan2((datum.h1 - datum.h0) * 137.5, (datum.m1 - datum.m0) * 117.5) * 180 / PI", "as": "ang"}],
          "mark": {"type": "point", "shape": "M0,0L0.55,1.7L-0.55,1.7Z", "size": 90, "filled": true, "opacity": 1},
          "encoding": {
            "x": {"field": "h1", "type": "quantitative", "axis": null},
            "y": {"field": "m1", "type": "quantitative", "axis": null},
            "angle": {"field": "ang", "type": "quantitative", "scale": null},
            "color": {"field": "s", "type": "nominal", "legend": null}
          }
        },
        {
          "data": {"name": "labelsA"},
          "mark": {"type": "text", "fontSize": 16.5, "align": "center", "baseline": "middle"},
          "encoding": {
            "x": {"field": "h", "type": "quantitative",
                  "axis": {"orient": "top", "values": [-1.2, -0.8, -0.4, 0, 0.4, 0.8, 1.2], "labels": false, "title": null}},
            "y": {"field": "m", "type": "quantitative",
                  "axis": {"orient": "right", "values": [-1, -0.5, 0, 0.5, 1], "labels": false, "title": null}},
            "text": {"field": "s"},
            "color": {"field": "s", "type": "nominal", "legend": null}
          }
        },
        {
          "data": {"name": "tagA"},
          "mark": {"type": "text", "fontSize": 19, "fontWeight": "bold", "align": "center", "baseline": "middle", "color": "#1a1a1a"},
          "encoding": {
            "x": {"field": "h", "type": "quantitative", "axis": null},
            "y": {"field": "m", "type": "quantitative", "axis": null},
            "text": {"field": "t"}
          }
        }
      ]
    },
    {
      "width": 330, "height": 245,
      "resolve": {"axis": {"x": "independent", "y": "independent"}},
      "layer": [
        {
          "data": {"name": "boxB"},
          "mark": {"type": "rect", "color": "#8c8c8c"},
          "encoding": {
            "x": {"field": "x1", "type": "quantitative", "axis": null, "scale": {"domain": [-1.2, 1.2], "nice": false, "zero": false}},
            "x2": {"field": "x2"},
            "y": {"field": "y1", "type": "quantitative", "axis": null, "scale": {"domain": [-1.04, 1.045], "nice": false, "zero": false}},
            "y2": {"field": "y2"}
          }
        },
        {
          "data": {"name": "boxB"},
          "mark": {"type": "text", "color": "white", "fontSize": 21, "align": "center", "baseline": "middle"},
          "encoding": {
            "x": {"field": "hc", "type": "quantitative", "axis": null},
            "y": {"field": "mc", "type": "quantitative", "axis": null},
            "text": {"field": "t"}
          }
        },
        {
          "data": {"name": "curvesB"},
          "mark": {"type": "line", "strokeWidth": 1.6, "clip": true},
          "encoding": {
            "x": {"field": "h", "type": "quantitative", "scale": {"domain": [-1.2, 1.2], "nice": false, "zero": false},
                  "axis": {"orient": "bottom", "values": [-1.2, -0.8, -0.4, 0, 0.4, 0.8, 1.2], "labelExpr": "'' + datum.value", "labelPadding": 24, "labelOffset": -5.5,
                           "title": "μ₀Hz (T)", "titleFontSize": 18, "titlePadding": 3, "titleX": 159}},
            "y": {"field": "m", "type": "quantitative", "scale": {"domain": [-1.04, 1.045], "nice": false, "zero": false},
                  "axis": {"orient": "left", "values": [-1, -0.5, 0, 0.5, 1], "labelExpr": "'' + datum.value", "labelPadding": 17, "title": "M/Mₛ", "titlePadding": 3}},
            "color": {"field": "s", "type": "nominal", "legend": null,
                      "scale": {"domain": ["0.04 K","0.2 K","0.4 K","0.5 K","0.7 K","1 K","0.140 T/s","0.014 T/s","0.003 T/s"],
                                "range": ["#e0262c","#23913f","#1b95dc","#93489a","#e0262c","#23913f","#e0262c","#23913f","#1b95dc"]}},
            "detail": {"field": "b", "type": "nominal"}
          }
        },
        {
          "data": {"name": "arrowsB"},
          "mark": {"type": "rule", "strokeWidth": 1.3},
          "encoding": {
            "x": {"field": "h0", "type": "quantitative", "axis": null},
            "y": {"field": "m0", "type": "quantitative", "axis": null},
            "x2": {"field": "h1"},
            "y2": {"field": "m1"},
            "color": {"field": "s", "type": "nominal", "legend": null}
          }
        },
        {
          "data": {"name": "arrowsB"},
          "transform": [{"calculate": "atan2((datum.h1 - datum.h0) * 137.5, (datum.m1 - datum.m0) * 117.5) * 180 / PI", "as": "ang"}],
          "mark": {"type": "point", "shape": "M0,0L0.55,1.7L-0.55,1.7Z", "size": 90, "filled": true, "opacity": 1},
          "encoding": {
            "x": {"field": "h1", "type": "quantitative", "axis": null},
            "y": {"field": "m1", "type": "quantitative", "axis": null},
            "angle": {"field": "ang", "type": "quantitative", "scale": null},
            "color": {"field": "s", "type": "nominal", "legend": null}
          }
        },
        {
          "data": {"name": "labelsB"},
          "mark": {"type": "text", "fontSize": 16.5, "align": "center", "baseline": "middle"},
          "encoding": {
            "x": {"field": "h", "type": "quantitative",
                  "axis": {"orient": "top", "values": [-1.2, -0.8, -0.4, 0, 0.4, 0.8, 1.2], "labels": false, "title": null}},
            "y": {"field": "m", "type": "quantitative",
                  "axis": {"orient": "right", "values": [-1, -0.5, 0, 0.5, 1], "labels": false, "title": null}},
            "text": {"field": "s"},
            "color": {"field": "s", "type": "nominal", "legend": null}
          }
        },
        {
          "data": {"name": "tagB"},
          "mark": {"type": "text", "fontSize": 19, "fontWeight": "bold", "align": "center", "baseline": "middle", "color": "#1a1a1a"},
          "encoding": {
            "x": {"field": "h", "type": "quantitative", "axis": null},
            "y": {"field": "m", "type": "quantitative", "axis": null},
            "text": {"field": "t"}
          }
        }
      ]
    }
  ]
}
